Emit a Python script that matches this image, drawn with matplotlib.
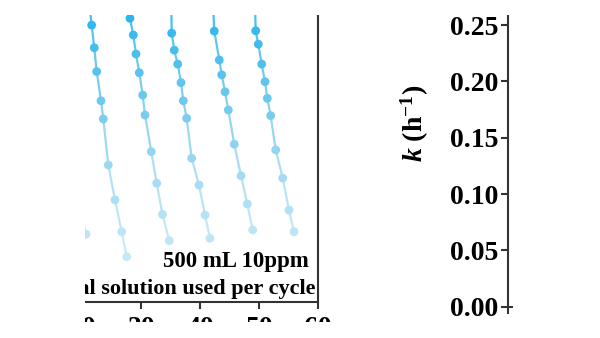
import matplotlib
matplotlib.use("Agg")
import matplotlib.pyplot as plt
import numpy as np
from matplotlib.collections import LineCollection
from matplotlib.colors import LinearSegmentedColormap
from matplotlib.patches import Rectangle

plt.rcParams["font.family"] = "Liberation Serif"
plt.rcParams["font.weight"] = "bold"
plt.rcParams["mathtext.fontset"] = "custom"
plt.rcParams["mathtext.rm"] = "Liberation Serif:bold"
plt.rcParams["mathtext.it"] = "Liberation Serif:italic:bold"
plt.rcParams["mathtext.bf"] = "Liberation Serif:bold"

# ==============================
# Concentration (mg/L) vs cumulative time (h), one list pair per cycle
# ==============================

cycle0_t = [18.59, 19.61, 20.63]
cycle0_c = [4.02, 3.15, 2.27]

cycle1_t = [21.19, 21.59, 22.03, 22.44, 23.17, 23.56, 24.41, 25.54, 26.68, 27.53]
cycle1_c = [10.0, 9.29, 8.53, 7.73, 6.75, 6.14, 4.59, 3.42, 2.35, 1.51]

cycle2_t = [27.83, 28.08, 28.64, 29.10, 29.66, 30.24, 30.63, 31.69, 32.61, 33.59, 34.75]
cycle2_c = [10.0, 9.52, 8.96, 8.32, 7.69, 6.94, 6.27, 5.04, 3.98, 2.93, 2.05]

cycle3_t = [35.08, 35.15, 35.59, 36.17, 36.73, 37.12, 37.69, 38.54, 39.78, 40.80, 41.64]
cycle3_c = [10.0, 9.02, 8.45, 7.98, 7.36, 6.75, 6.16, 4.82, 3.92, 2.91, 2.13]

cycle4_t = [42.15, 42.37, 43.22, 43.63, 44.19, 44.75, 45.76, 46.90, 47.97, 48.88]
cycle4_c = [10.0, 9.09, 8.12, 7.62, 7.05, 6.44, 5.29, 4.23, 3.28, 2.41]

cycle5_t = [49.27, 49.39, 49.83, 50.41, 50.97, 51.36, 51.93, 52.78, 53.97, 55.03, 55.88]
cycle5_c = [10.0, 9.10, 8.65, 7.98, 7.39, 6.83, 6.25, 5.10, 4.15, 3.08, 2.35]

cycles = [
    (cycle0_t, cycle0_c),
    (cycle1_t, cycle1_c),
    (cycle2_t, cycle2_c),
    (cycle3_t, cycle3_c),
    (cycle4_t, cycle4_c),
    (cycle5_t, cycle5_c),
]

x_ticks = [20, 30, 40, 50, 60]
k_ticks = [0.00, 0.05, 0.10, 0.15, 0.20, 0.25]

note_line1 = "500 mL 10ppm"
note_line2 = "Total solution used per cycle"

cmap = LinearSegmentedColormap.from_list(
    "sky", ["#c6e9f7", "#a3daf1", "#66c6ed", "#22b3ee"])
norm = plt.Normalize(1.5, 10.0)

fig = plt.figure(figsize=(6, 3.38), dpi=100)

# ==============================
# Left panel: concentration decay per cycle
# ==============================

ax1 = fig.add_axes([0.0333, 0.1074, 0.4972, 0.8808])
for t, c in cycles:
    t = np.array(t)
    c = np.array(c)
    pts = np.column_stack([t, c]).reshape(-1, 1, 2)
    segs = np.concatenate([pts[:-1], pts[1:]], axis=1)
    lc = LineCollection(segs, colors=cmap(norm((c[:-1] + c[1:]) / 2)),
                        linewidths=1.6, alpha=0.85, zorder=2)
    ax1.add_collection(lc)
    ax1.scatter(t, c, c=c, cmap=cmap, norm=norm, s=40,
                edgecolors="none", zorder=3)

ax1.set_xlim(9.44, 60)
ax1.set_ylim(0, 10)
ax1.set_xticks(x_ticks)
ax1.set_yticks([])
ax1.spines["top"].set_visible(False)
for s in ["left", "right", "bottom"]:
    ax1.spines[s].set_linewidth(1.5)
    ax1.spines[s].set_color("#333333")
ax1.tick_params(axis="x", direction="out", length=5, width=1.5,
                colors="#333333", labelsize=20, labelcolor="black", pad=5)

fig.text(309 / 600, 1 - 261 / 338, note_line1, ha="right", va="center",
         fontsize=16.5, fontweight="bold")
fig.text(316 / 600, 1 - 289 / 338, note_line2, ha="right", va="center",
         fontsize=16, fontweight="bold")

# ==============================
# Right panel: rate constant axis
# ==============================

ax2 = fig.add_axes([0.8467, 0.07396, 0.1367, 0.8964])
ax2.set_ylim(-0.00559, 0.2633)
ax2.set_yticks(k_ticks)
ax2.set_yticklabels([f"{v:.2f}" for v in k_ticks])
ax2.set_xticks([])
ax2.spines["top"].set_visible(False)
ax2.spines["right"].set_visible(False)
ax2.spines["bottom"].set_position(("data", 0))
for s in ["left", "bottom"]:
    ax2.spines[s].set_linewidth(1.5)
    ax2.spines[s].set_color("#333333")
ax2.tick_params(axis="y", direction="out", length=5, width=1.5,
                colors="#333333", labelsize=20, labelcolor="black", pad=2)

fig.text(415 / 600, 1 - 123 / 338, r"$k$ (h$^{-1}$)", rotation=90,
         ha="center", va="center", fontsize=20, fontweight="bold")

# White frame around the panel region
for x0, y0, w, h in [(0, 1 - 15 / 338, 1, 15 / 338),
                     (0, 0, 85 / 600, 1),
                     (513 / 600, 0, 87 / 600, 1),
                     (0, 0, 1, 1 - 322 / 338)]:
    fig.add_artist(Rectangle((x0, y0), w, h, transform=fig.transFigure,
                             facecolor="white", edgecolor="none", zorder=20))

fig.savefig("out.png", dpi=100)
